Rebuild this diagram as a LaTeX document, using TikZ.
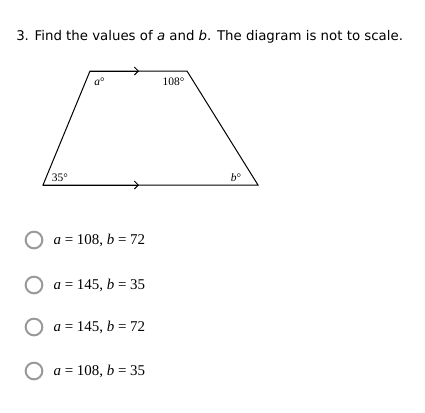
\documentclass[tikz,border=0pt]{standalone}
\usepackage{fontspec}
\setmainfont{Liberation Serif}
\newfontfamily\qfont{DejaVu Sans}
\usetikzlibrary{arrows.meta,positioning}

\begin{document}
\begin{tikzpicture}
    [x=0.75pt,y=-0.75pt,
    side/.style={draw=black, line width=0.75pt},
    parmark/.style={draw=black, line width=0.75pt,
    -{Straight Barb[length=3pt,width=6pt]}},
    anglabel/.style={font=\fontsize{8.6}{10}\selectfont, inner sep=0pt},
    radio/.style={circle, draw=gray!80, line width=1.5pt,
    minimum size=12.5pt, inner sep=0pt},
    answer/.style={font=\fontsize{11.2}{13}\selectfont, inner sep=0pt}]

    \useasboundingbox (0,0) rectangle (425,412);

    \node [font=\qfont\fontsize{10}{12}\selectfont, anchor=west, inner sep=0pt]
      (question) at (16,37)
      {3. Find the values of \textit{a} and \textit{b}. The diagram is not to scale.};

    % trapezoid corners
    \coordinate (tl) at (90,71);
    \coordinate (tr) at (187,71);
    \coordinate (bl) at (43,185);
    \coordinate (br) at (258,185);
    \coordinate (tm) at (139,71);
    \coordinate (bm) at (139,185);

    \path [side] (bl) -- (tl) -- (tr) -- (br) -- cycle;
    \path [parmark] (tl) -- (tm);
    \path [parmark] (bl) -- (bm);

    \node [anglabel] (ang_a) at (99.5,82) {\textit{a}°};
    \node [anglabel] (ang_top) at (173.5,82) {108°};
    \node [anglabel] (ang_bl) at (60,178) {35°};
    \node [anglabel] (ang_b) at (236,178) {\textit{b}°};

    % answer choices
    \foreach \i/\yy/\aval/\bval in {1/240/108/72, 2/285/145/35,
                                   3/327/145/72, 4/371/108/35}
    {
        \node [radio] (opt\i) at (34,\yy) {};
        \node [answer, right=7.5pt of opt\i] (ans\i)
          {\textit{a} = \aval, \textit{b} = \bval};
    }
\end{tikzpicture}
\end{document}
